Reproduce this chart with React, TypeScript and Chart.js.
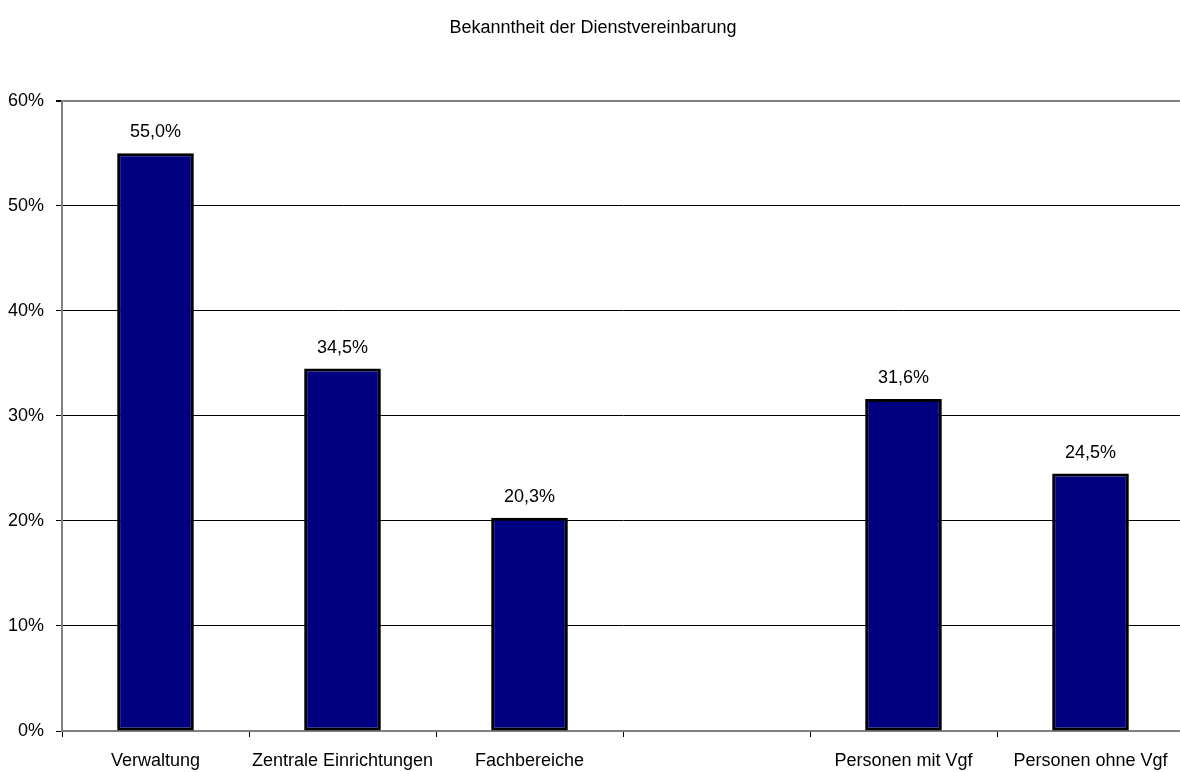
import React, { useEffect, useRef } from "react";
import { Chart, registerables } from "chart.js";

Chart.register(...registerables);

const TITLE = "Bekanntheit der Dienstvereinbarung";
const categories = ["Verwaltung", "Zentrale Einrichtungen", "Fachbereiche", "", "Personen mit Vgf", "Personen ohne Vgf"];
const values: (number | null)[] = [55.0, 34.5, 20.3, null, 31.6, 24.5];
const yTicks = [0, 10, 20, 30, 40, 50, 60];

const FONT = "'Liberation Sans', Arial, sans-serif";
const FS = 18;

const fmt = (v: number) => v.toFixed(1).replace(".", ",") + "%";

const valueLabels = {
  id: "valueLabels",
  afterDatasetsDraw(chart: any) {
    const ctx = chart.ctx;
    const meta = chart.getDatasetMeta(0);
    ctx.save();
    ctx.font = `${FS}px ${FONT}`;
    ctx.fillStyle = "#000";
    ctx.textAlign = "center";
    ctx.textBaseline = "alphabetic";
    meta.data.forEach((el: any, i: number) => {
      const v = values[i];
      if (v === null || v === undefined) return;
      ctx.fillText(fmt(v), el.x, el.y - 16);
    });
    ctx.restore();
  },
};

export default function App() {
  const ref = useRef<HTMLCanvasElement>(null);
  useEffect(() => {
    if (!ref.current) return;
    const chart = new Chart(ref.current, {
      type: "bar",
      data: {
        labels: categories,
        datasets: [
          {
            data: values,
            backgroundColor: "#000080",
            borderColor: "#000000",
            borderWidth: 3,
            borderSkipped: false,
            categoryPercentage: 1,
            barPercentage: 0.41,
          },
        ],
      },
      options: {
        responsive: false,
        animation: false,
        devicePixelRatio: 1,
        layout: { padding: { left: 2, right: 6, top: 0, bottom: 0 } },
        plugins: {
          legend: { display: false },
          tooltip: { enabled: false },
          title: {
            display: true,
            text: TITLE,
            color: "#000",
            font: { family: FONT, size: FS, weight: "normal" },
            padding: { top: 17, bottom: 62 },
          },
        },
        scales: {
          x: {
            offset: true,
            afterFit: (s: any) => {
              s.height = 41;
            },
            grid: {
              display: true,
              offset: true,
              drawOnChartArea: false,
              drawTicks: true,
              tickLength: 6,
              tickColor: "#000",
              color: "#000",
            },
            border: { display: true, color: "#808080", width: 2 },
            ticks: {
              color: "#000",
              font: { family: FONT, size: FS },
              padding: 13,
              maxRotation: 0,
              autoSkip: false,
            },
          },
          y: {
            min: 0,
            max: 60,
            afterFit: (s: any) => {
              s.width = 60;
            },
            afterBuildTicks: (axis: any) => {
              axis.ticks = yTicks.map((v) => ({ value: v }));
            },
            grid: {
              color: (c: any) => (c.tick && c.tick.value === 60 ? "#808080" : "#000"),
              lineWidth: (c: any) => (c.tick && c.tick.value === 60 ? 2 : 1),
              tickColor: "#000",
              tickLength: 6,
            },
            border: { display: true, color: "#808080", width: 2 },
            ticks: {
              color: "#000",
              font: { family: FONT, size: FS },
              padding: 12,
              callback: (v: any) => `${v}%`,
            },
          },
        },
      },
      plugins: [valueLabels],
    });
    return () => chart.destroy();
  }, []);
  return (
    <div
      style={{
        position: "fixed",
        left: 0,
        top: 0,
        width: 1180,
        height: 772,
        overflow: "hidden",
        background: "#fff",
      }}
    >
      <canvas ref={ref} width={1190} height={772} style={{ display: "block" }} />
    </div>
  );
}
